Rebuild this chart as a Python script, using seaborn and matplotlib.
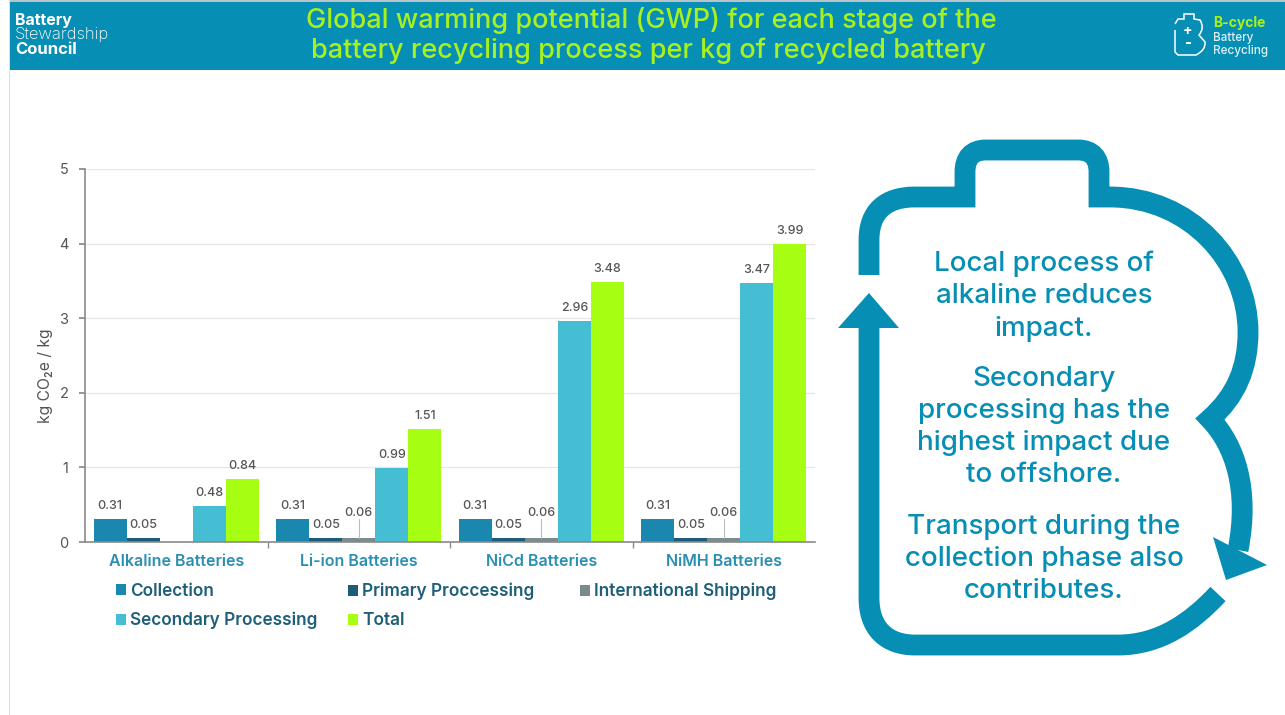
import matplotlib
matplotlib.use("Agg")
import matplotlib.pyplot as plt
import pandas as pd
import seaborn as sns
from matplotlib.patches import PathPatch, Polygon, Rectangle
from matplotlib.path import Path

batteries = ["Alkaline Batteries", "Li-ion Batteries", "NiCd Batteries", "NiMH Batteries"]
stages = ["Collection", "Primary Proccessing", "International Shipping", "Secondary Processing", "Total"]
collection = [0.31, 0.31, 0.31, 0.31]
primary = [0.05, 0.05, 0.05, 0.05]
shipping = [None, 0.06, 0.06, 0.06]
secondary = [0.48, 0.99, 2.96, 3.47]
total = [0.84, 1.51, 3.48, 3.99]
y_ticks = [0, 1, 2, 3, 4, 5]

colors = ["#1A87AE", "#1B5C78", "#7B8A8C", "#45BDD3", "#A6FF12"]
TEAL = "#078EB4"
LIME = "#A8F01E"
W, H = 1285, 715

sns.set_theme(style="white")
plt.rcParams["font.family"] = ["Inter", "DejaVu Sans"]

df = pd.DataFrame({"battery": batteries, stages[0]: collection, stages[1]: primary,
                   stages[2]: shipping, stages[3]: secondary, stages[4]: total})
df = df.melt(id_vars="battery", var_name="stage", value_name="gwp")

fig = plt.figure(figsize=(W / 100, H / 100), dpi=100)

# full figure layer in pixel coordinates for the header and the bottle
bg = fig.add_axes([0, 0, 1, 1], zorder=0)
bg.set_xlim(0, W)
bg.set_ylim(H, 0)
bg.axis("off")

bg.add_patch(Rectangle((9, 0), 1, H, color="#DDE1E4", lw=0))
bg.add_patch(Rectangle((10, 0), W - 10, 1.5, color="#B9C4CA", lw=0))
bg.add_patch(Rectangle((10, 1.5), W - 10, 68.5, color=TEAL, lw=0))
bg.text(651, 21, "Global warming potential (GWP) for each stage of the", color=LIME,
        fontsize=19.5, weight="medium", ha="center", va="center")
bg.text(648, 51, "battery recycling process per kg of recycled battery", color=LIME,
        fontsize=19.5, weight="medium", ha="center", va="center")

bg.text(15, 21, "Battery", color="white", fontsize=11.5, weight="bold", va="center")
bg.text(15, 35, "Stewardship", color="white", fontsize=12, weight="light", va="center")
bg.text(15, 50, "Council", color="white", fontsize=12, weight="bold", va="center")

bg.text(1213, 23, "B-cycle", color=LIME, fontsize=10, weight="bold", va="center")
bg.text(1213, 38, "Battery", color="#DDF1F6", fontsize=8.4, weight="medium", va="center")
bg.text(1213, 51, "Recycling", color="#DDF1F6", fontsize=8.5, weight="medium", va="center")
icon = [(Path.MOVETO, (1175, 30)), (Path.LINETO, (1175, 52)), (Path.LINETO, (1178, 55)),
        (Path.LINETO, (1196, 55)), (Path.CURVE3, (1206, 50)), (Path.CURVE3, (1205, 42)),
        (Path.LINETO, (1199, 35)), (Path.CURVE3, (1205, 28)), (Path.CURVE3, (1200, 20)),
        (Path.LINETO, (1194, 19)), (Path.LINETO, (1194, 14)), (Path.LINETO, (1184, 14)),
        (Path.LINETO, (1184, 19)), (Path.LINETO, (1178, 19)), (Path.LINETO, (1175, 24))]
bg.add_patch(PathPatch(Path([p for _, p in icon], [c for c, _ in icon]), fill=False,
                       ec="white", lw=1.1))
bg.text(1188, 31, "+", color="white", fontsize=10, weight="bold", ha="center", va="center")
bg.text(1188, 44, "-", color="white", fontsize=11, weight="bold", ha="center", va="center")

upper = [(Path.MOVETO, (869, 275)), (Path.LINETO, (869, 240)),
         (Path.CURVE4, (869, 212)), (Path.CURVE4, (885, 197)), (Path.CURVE4, (915, 197)),
         (Path.LINETO, (965, 197)), (Path.LINETO, (965, 172)),
         (Path.CURVE4, (965, 158)), (Path.CURVE4, (972, 150)), (Path.CURVE4, (986, 150)),
         (Path.LINETO, (1078, 150)),
         (Path.CURVE4, (1092, 150)), (Path.CURVE4, (1099, 158)), (Path.CURVE4, (1099, 172)),
         (Path.LINETO, (1099, 197)), (Path.LINETO, (1110, 197)),
         (Path.CURVE4, (1190, 197)), (Path.CURVE4, (1248, 262)), (Path.CURVE4, (1248, 332)),
         (Path.CURVE4, (1248, 368)), (Path.CURVE4, (1236, 396)), (Path.CURVE4, (1210, 419)),
         (Path.CURVE4, (1235, 445)), (Path.CURVE4, (1250, 490)), (Path.CURVE4, (1238, 550))]
lower = [(Path.MOVETO, (869, 325)), (Path.LINETO, (869, 598)),
         (Path.CURVE4, (869, 628)), (Path.CURVE4, (886, 645)), (Path.CURVE4, (915, 645)),
         (Path.LINETO, (1118, 645)),
         (Path.CURVE4, (1160, 645)), (Path.CURVE4, (1192, 622)), (Path.CURVE4, (1218, 594))]
for shape in [upper, lower]:
    bg.add_patch(PathPatch(Path([p for _, p in shape], [c for c, _ in shape]), fill=False,
                           ec=TEAL, lw=15, capstyle="butt", joinstyle="miter"))
bg.add_patch(Polygon([(869, 293), (899, 328), (838, 328)], color=TEAL, lw=0))
bg.add_patch(Polygon([(1213, 537), (1267, 565), (1226, 580)], color=TEAL, lw=0))

notes = [(264, "Local process of"), (296, "alkaline reduces"), (329, "impact."),
         (379, "Secondary"), (411, "processing has the"), (443, "highest impact due"),
         (475, "to offshore."),
         (527, "Transport during the"), (559, "collection phase also"), (591, "contributes.")]
for y, line in notes:
    bg.text(1044, y, line, color=TEAL, fontsize=20, weight="medium", ha="center", va="center")

# chart axes
ax = fig.add_axes([85 / W, 1 - 542 / H, 730 / W, 373 / H], zorder=1)
ax.patch.set_alpha(0)
sns.barplot(data=df, x="battery", y="gwp", hue="stage", hue_order=stages, order=batteries,
            palette=colors, saturation=1, width=0.905, gap=0, errorbar=None, linewidth=0, ax=ax)
handles = dict(zip(*ax.get_legend_handles_labels()[::-1]))
ax.get_legend().remove()

ax.set_xlim(-0.5, 3.5)
ax.set_ylim(0, 5)
ax.set_yticks(y_ticks)
ax.set_xlabel("")
ax.set_ylabel("kg CO₂e / kg", fontsize=11.3, color="#555555", labelpad=4, y=0.445)
ax.grid(axis="y", color="#E6E6E6", lw=0.9)
ax.set_axisbelow(True)
sns.despine(ax=ax, top=True, right=True)
for side in ["left", "bottom"]:
    ax.spines[side].set_color("#8A8A8A")
    ax.spines[side].set_linewidth(1.2)
ax.tick_params(axis="y", length=4, color="#8A8A8A", labelsize=10.5, labelcolor="#555555", pad=8, left=True)
ax.tick_params(axis="x", length=0, labelsize=11.5, labelcolor="#2A8FB0", pad=9)
for lab in ax.get_xticklabels():
    lab.set_fontweight("semibold")
ax.set_xticks([0.5, 1.5, 2.5], minor=True)
ax.tick_params(axis="x", which="minor", length=4, color="#8A8A8A", bottom=True)

for cont, stage in zip(ax.containers, stages):
    pad = 13.5 if stage == "International Shipping" else 5
    ax.bar_label(cont, fmt="%.2f", padding=pad, fontsize=9, color="#555555", fontweight="medium")
    if stage == "International Shipping":
        for bar in cont:
            if bar.get_height() > 0:
                mid = bar.get_x() + bar.get_width() / 2
                ax.plot([mid, mid], [bar.get_height(), 0.31], color="#BBBBBB", lw=0.8)

# legend columns sit at fixed places, so one legend per column
cols = [(116, ["Collection", "Secondary Processing"]),
        (348, ["Primary Proccessing", "Total"]),
        (580, ["International Shipping"])]
for left, names in cols:
    leg = fig.legend([handles[n] for n in names], names, loc="upper left",
                     bbox_to_anchor=(left / W, 1 - 583 / H), frameon=False, fontsize=12.4,
                     handlelength=0.6, handleheight=0.6, handletextpad=0.2, labelspacing=0.68,
                     labelcolor="#1F5F7A", borderpad=0, borderaxespad=0)
    for t in leg.get_texts():
        t.set_fontweight("semibold")

fig.savefig("out.png", dpi=100)
